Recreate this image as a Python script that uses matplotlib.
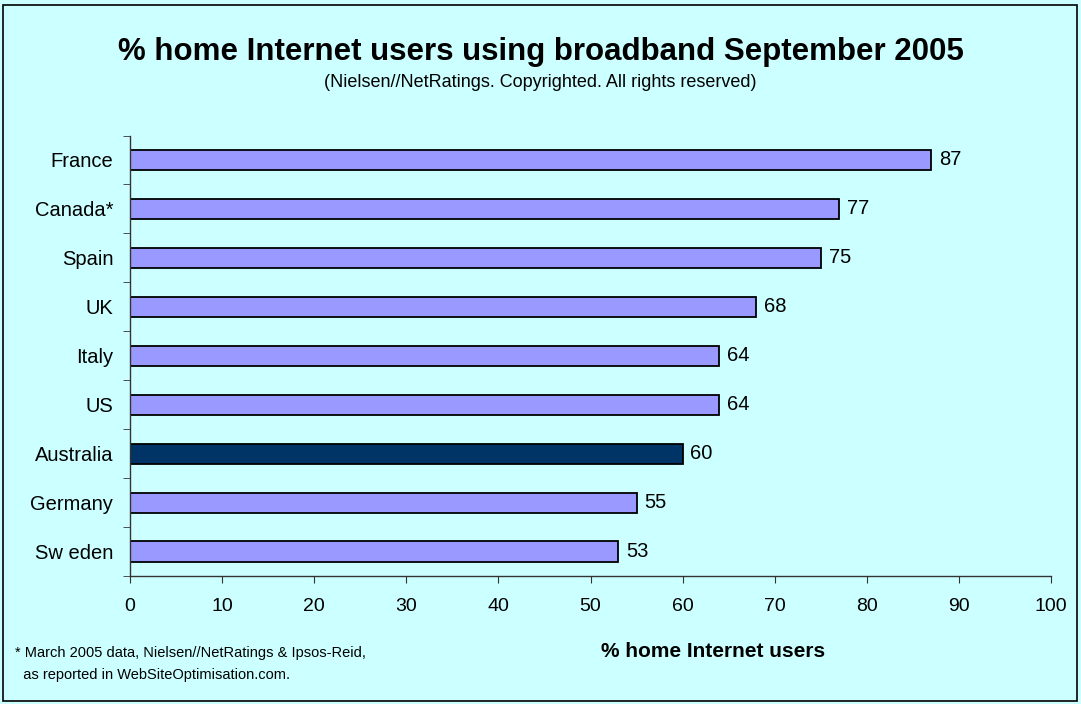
import matplotlib.pyplot as plt
from matplotlib.patches import Rectangle

plt.rcParams['font.family'] = ['Liberation Sans', 'DejaVu Sans']

# Broadband share by country, top to bottom
countries = ['France', 'Canada*', 'Spain', 'UK', 'Italy', 'US', 'Australia', 'Germany', 'Sw eden']
values = [87, 77, 75, 68, 64, 64, 60, 55, 53]
highlight = 'Australia'

bg = '#CCFFFF'
bar_color = '#9999FF'
hi_color = '#003366'

W, H = 1081, 704
fig = plt.figure(figsize=(W / 100, H / 100), dpi=100, facecolor=bg)
ax = fig.add_axes([130 / W, 1 - 576 / H, 921 / W, 440.5 / H])
ax.set_facecolor(bg)

n = len(countries)
ypos = list(range(n))[::-1]
colors = [hi_color if c == highlight else bar_color for c in countries]
ax.barh(ypos, values, height=0.41, color=colors, edgecolor='black', linewidth=1.3)

for y, v in zip(ypos, values):
    ax.text(v + 0.85, y, str(v), va='center', ha='left', fontsize=14.5)

ax.set_xlim(0, 100)
ax.set_ylim(-0.5, n - 0.5)
ax.set_xticks(range(0, 101, 10))
ax.set_yticks(ypos)
ax.set_yticklabels(countries, fontsize=14.5)
ax.tick_params(axis='x', labelsize=14, length=5, direction='out', pad=11, color='#333333')
ax.tick_params(axis='y', length=0, pad=12)
# y tick marks sit between categories
ax.set_yticks([i - 0.5 for i in range(n + 1)], minor=True)
ax.tick_params(axis='y', which='minor', length=5, direction='out', color='#333333')

for s in ['top', 'right']:
    ax.spines[s].set_visible(False)
for s in ['left', 'bottom']:
    ax.spines[s].set_color('#333333')
    ax.spines[s].set_linewidth(1)

fig.text(0.5, 1 - 60 / H, '% home Internet users using broadband September 2005',
         ha='center', va='baseline', fontsize=22.5, fontweight='bold')
fig.text(0.5, 1 - 87 / H, '(Nielsen//NetRatings. Copyrighted. All rights reserved)',
         ha='center', va='baseline', fontsize=13)
fig.text(713 / W, 1 - 657 / H, '% home Internet users', ha='center', va='baseline',
         fontsize=15, fontweight='bold')
fig.text(15 / W, 1 - 657 / H, '* March 2005 data, Nielsen//NetRatings & Ipsos-Reid,',
         ha='left', va='baseline', fontsize=10.5)
fig.text(15 / W, 1 - 679 / H, '  as reported in WebSiteOptimisation.com.',
         ha='left', va='baseline', fontsize=10.5)

# frame around the whole chart area
fig.patches.append(Rectangle((3 / W, 3 / H), 1074 / W, 696 / H,
                             transform=fig.transFigure, fill=False,
                             edgecolor='black', linewidth=1.2))

fig.savefig('out.png', dpi=100, facecolor=bg)
